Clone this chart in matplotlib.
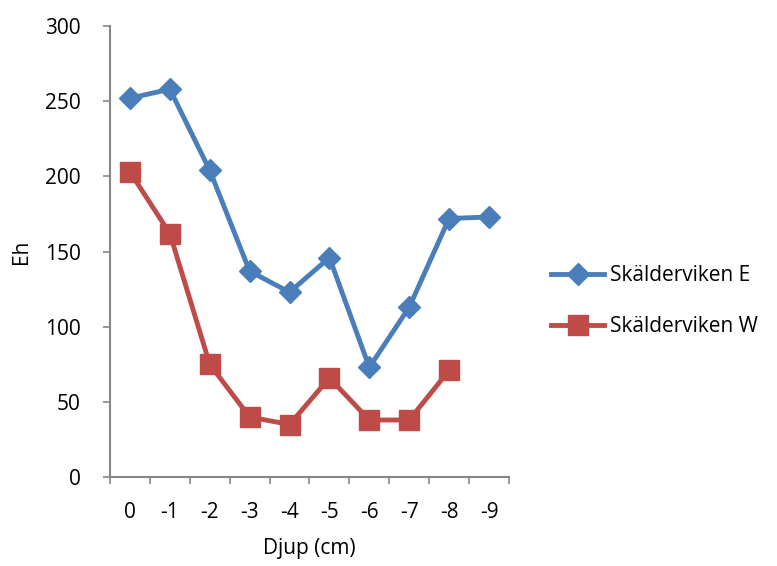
import numpy as np
import matplotlib.pyplot as plt

plt.rcParams['font.family'] = ['Open Sans', 'DejaVu Sans']

djup = ["0", "-1", "-2", "-3", "-4", "-5", "-6", "-7", "-8", "-9"]
eh_E = [252, 258, 204, 137, 123, 146, 73, 113, 172, 173]
eh_W = [203, 162, 75, 40, 35, 66, 38, 38, 71]

fig = plt.figure(figsize=(7.77, 5.66), dpi=100)
ax = fig.add_axes([0.1416, 0.157, 0.5134, 0.797])

x = np.arange(len(djup))
ax.plot(x, eh_E, color="#4a7ebb", lw=3.5, marker="D", ms=11.5, label="Skälderviken E")
ax.plot(x[:len(eh_W)], eh_W, color="#be4b48", lw=3.5, marker="s", ms=14, label="Skälderviken W")

ax.set_xlim(-0.5, len(djup) - 0.5)
ax.set_ylim(0, 300)
ax.set_yticks(range(0, 301, 50))
ax.set_xticks(x)
ax.set_xticklabels(djup)
ax.set_xticks(np.arange(-0.5, len(djup), 1), minor=True)
ax.tick_params(axis="x", which="major", length=0, pad=18)
ax.tick_params(axis="x", which="minor", length=5, direction="out", color="#868686", width=1.2)
ax.tick_params(axis="y", length=5, direction="out", color="#868686", width=1.2, pad=16)
ax.tick_params(labelsize=15)
for s in ["top", "right"]:
    ax.spines[s].set_visible(False)
for s in ["left", "bottom"]:
    ax.spines[s].set_color("#868686")
    ax.spines[s].set_linewidth(1.5)

ax.set_xlabel("Djup (cm)", fontsize=15, labelpad=11)
ax.set_ylabel("Eh", fontsize=15, labelpad=9)

ax.legend(loc="center left", bbox_to_anchor=(1.085, 0.39), frameon=False, fontsize=15,
          handlelength=2.55, handletextpad=0.25, labelspacing=1.45, borderaxespad=0)

fig.savefig("out.png", dpi=100)
